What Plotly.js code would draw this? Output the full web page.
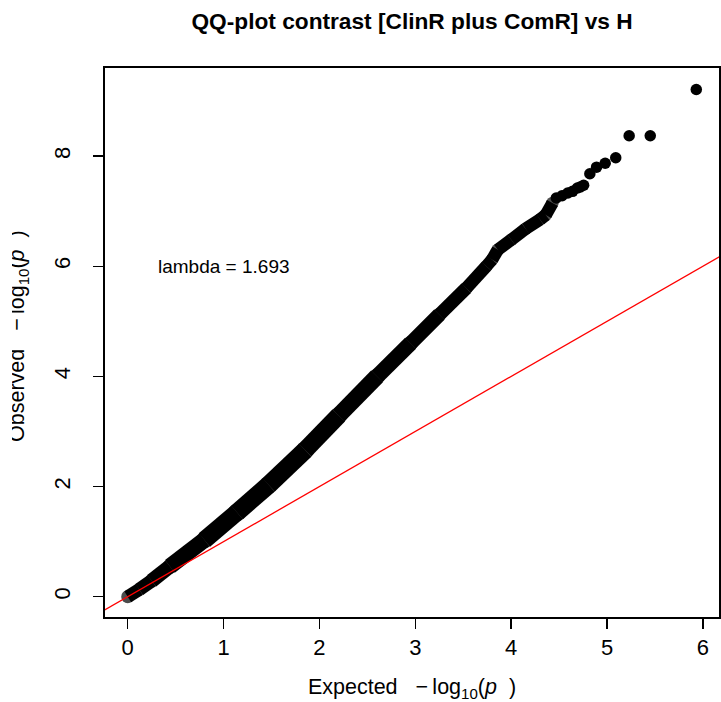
<!DOCTYPE html>
<html>
<head>
<meta charset="utf-8">
<script src="https://cdn.plot.ly/plotly-3.0.1.min.js"></script>
<style>
html,body{margin:0;padding:0;background:#fff;}
#wrap{position:relative;width:721px;height:702px;}
#chart{width:721px;height:702px;}
#mask{position:absolute;left:0;top:0;width:12px;height:702px;background:#fff;}
</style>
</head>
<body>
<div id="wrap"><div id="chart"></div><div id="mask"></div></div>
<script>
// Dense part of the QQ curve (expected vs observed -log10 p)
const bandExpected = [0, 0.12, 0.25, 0.44, 0.8, 1.14, 1.47, 1.85, 2.2, 2.6, 2.95, 3.25, 3.53, 3.74, 3.80, 3.86, 4.0, 4.15, 4.30, 4.36, 4.43];
const bandObserved = [0, 0.13, 0.29, 0.55, 1.03, 1.53, 2.03, 2.66, 3.29, 4.0, 4.6, 5.12, 5.6, 6.0, 6.12, 6.30, 6.48, 6.68, 6.85, 6.93, 7.15];
// Sparse tail points
const tailExpected = [4.47, 4.53, 4.59, 4.64, 4.69, 4.72, 4.755, 4.82, 4.89, 4.98, 5.09, 5.23, 5.45, 5.93];
const tailObserved = [7.24, 7.28, 7.33, 7.36, 7.42, 7.44, 7.47, 7.68, 7.80, 7.87, 7.97, 8.37, 8.37, 9.21];
// Reference line y = x
const refX = [-1, 7];
const refY = [-1, 7];
const xTicks = [0, 1, 2, 3, 4, 5, 6];
const yTicks = [0, 2, 4, 6, 8];
const lambdaText = "lambda = 1.693";
const lambdaPos = [1, 6];

const FONT = "Liberation Sans, Arial, Helvetica, sans-serif";
const NB = "\u00A0";

// band thickness in pixels (style): the point cloud is thicker in its lower half
function bandWidth(i) {
  const w = [13, 13, 14, 15, 17, 18, 18, 18, 17, 16, 15, 14, 13];
  return i < w.length ? w[i] : 12.5;
}

const traces = [];
for (let i = 0; i < bandExpected.length - 1; i++) {
  traces.push({
    x: [bandExpected[i], bandExpected[i + 1]], y: [bandObserved[i], bandObserved[i + 1]],
    mode: "lines", type: "scatter",
    line: {color: "#000", width: (bandWidth(i) + bandWidth(i + 1)) / 2}, hoverinfo: "skip"
  });
}
traces.push({
  x: bandExpected, y: bandObserved, mode: "markers", type: "scatter",
  marker: {color: "#000", size: bandExpected.map((_, i) => bandWidth(i)), line: {width: 0}}, hoverinfo: "skip"
});
traces.push({x: tailExpected, y: tailObserved, mode: "markers", type: "scatter",
  marker: {color: "#000", size: 11.5, line: {width: 0}}, hoverinfo: "skip"});
traces.push({x: refX, y: refY, mode: "lines", type: "scatter",
  line: {color: "#FF0000", width: 1.3}, hoverinfo: "skip"});

const axisCommon = {
  showgrid: false, zeroline: false, showline: true, linecolor: "#000", linewidth: 2,
  mirror: true, ticks: "outside", ticklen: 10, tickwidth: 1.5, tickcolor: "#000",
  tickfont: {family: FONT, size: 22, color: "#000"}, fixedrange: true
};

const axisTitle = (word) => word + NB + NB + NB + "\u2212\u2009log<sub>10</sub>(<i>p</i>" + NB + NB + ")";

const layout = {
  width: 721, height: 702,
  margin: {l: 105, r: 2, t: 68, b: 85},
  paper_bgcolor: "#fff", plot_bgcolor: "#fff",
  showlegend: false,
  title: {text: "<b>QQ-plot contrast [ClinR plus ComR] vs H</b>", font: {family: FONT, size: 22.7, color: "#000"},
          x: 0.5, xref: "paper", y: 1 - 21/702, yanchor: "middle"},
  xaxis: Object.assign({}, axisCommon, {
    range: [-0.237, 6.167], tickvals: xTicks, ticktext: xTicks.map(String),
    title: {text: axisTitle("Expected"), font: {family: FONT, size: 21.5, color: "#000"}, standoff: 23}
  }),
  yaxis: Object.assign({}, axisCommon, {
    range: [-0.369, 9.6], tickvals: yTicks, ticktext: yTicks.map(String), tickangle: -90,
    ticklabelstandoff: 14
  }),
  annotations: [
    {text: lambdaText, x: lambdaPos[0], y: lambdaPos[1], xref: "x", yref: "y", showarrow: false,
     font: {family: FONT, size: 19, color: "#000"}},
    {text: axisTitle("Observed"), textangle: -90,
     xref: "paper", yref: "paper", x: 0, y: 0.5, xanchor: "center", yanchor: "middle",
     xshift: -86.5, yshift: 6, showarrow: false,
     font: {family: FONT, size: 21.5, color: "#000"}}
  ]
};

Plotly.newPlot("chart", traces, layout, {displayModeBar: false, staticPlot: true});
</script>
</body>
</html>
